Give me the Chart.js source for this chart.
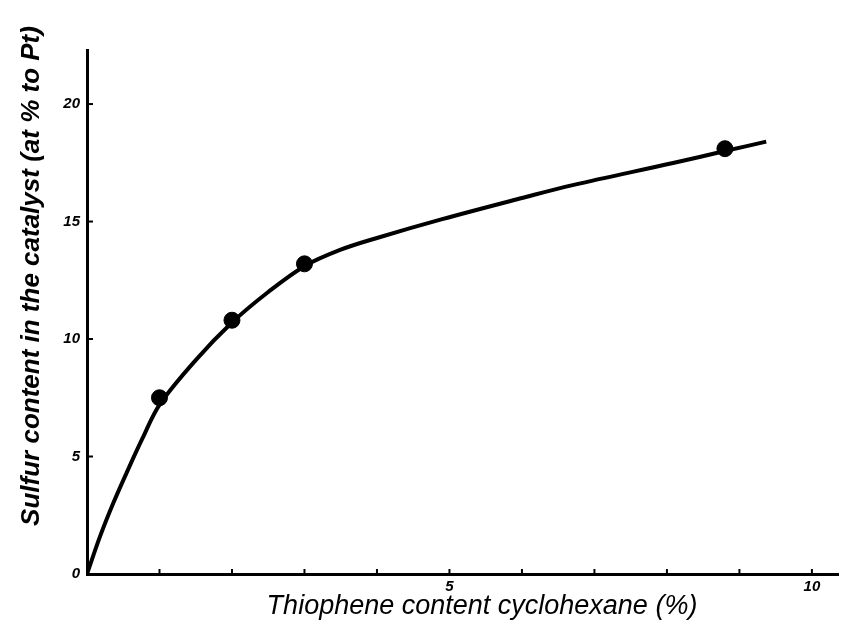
<!DOCTYPE html>
<html>
<head>
<meta charset="utf-8">
<script src="https://cdn.jsdelivr.net/npm/chart.js@4.4.1/dist/chart.umd.min.js"></script>
<style>
  html, body { margin: 0; padding: 0; background: #fff; }
  canvas { display: block; }
</style>
</head>
<body>
<canvas id="grafico" width="847" height="628"></canvas>
<script>
// --- datos ---
const curvaX = [0, 0.18, 0.36, 0.56, 0.77, 1, 1.5, 2, 2.5, 3, 3.5, 4, 4.9, 6, 6.7, 8.1, 8.8, 9.37];
const curvaY = [0, 1.6, 3.0, 4.4, 5.8, 7.2, 9.1, 10.7, 12.0, 13.1, 13.8, 14.3, 15.1, 16.0, 16.55, 17.5, 18.0, 18.4];

const medidasX = [1, 2, 3, 8.8];
const medidasY = [7.5, 10.8, 13.2, 18.1];

const ticksEjeX = [5, 10];
const ticksEjeY = [0, 5, 10, 15, 20];

const tituloX = "Thiophene content cyclohexane (%)";
const tituloY = "Sulfur content in the catalyst (at % to Pt)";

const fuenteMano = '"Liberation Sans", "DejaVu Sans", sans-serif';

// marcas de escala hacia dentro + titulos de ejes
const marcasPlugin = {
    id: 'marcas',
    afterDraw(chart) {
        const ctx = chart.ctx;
        const sx = chart.scales.x, sy = chart.scales.y;
        ctx.save();
        ctx.strokeStyle = '#000';
        ctx.lineWidth = 2;
        for (let v = 1; v <= 10; v++) {
            const px = sx.getPixelForValue(v);
            ctx.beginPath();
            ctx.moveTo(px, sy.bottom);
            ctx.lineTo(px, sy.bottom - 5);
            ctx.stroke();
        }
        for (let v = 5; v <= 20; v += 5) {
            const py = sy.getPixelForValue(v);
            ctx.beginPath();
            ctx.moveTo(sx.left, py);
            ctx.lineTo(sx.left + 6, py);
            ctx.stroke();
        }
        ctx.fillStyle = '#000';
        ctx.textAlign = 'center';
        ctx.textBaseline = 'middle';
        ctx.font = 'italic 27px ' + fuenteMano;
        ctx.fillText(tituloX, 482, 606);
        ctx.translate(32, 276);
        ctx.rotate(-Math.PI / 2);
        ctx.font = 'italic bold 26px ' + fuenteMano;
        ctx.fillText(tituloY, 0, 0);
        ctx.restore();
    }
};

new Chart(document.getElementById('grafico'), {
    type: 'scatter',
    data: {
        datasets: [
            {
                type: 'line',
                data: curvaX.map((x, i) => ({ x: x, y: curvaY[i] })),
                borderColor: '#000',
                borderWidth: 4,
                pointRadius: 0,
                tension: 0.35,
                fill: false
            },
            {
                data: medidasX.map((x, i) => ({ x: x, y: medidasY[i] })),
                backgroundColor: '#000',
                borderColor: '#000',
                pointRadius: 8,
                pointHoverRadius: 8
            }
        ]
    },
    options: {
        responsive: false,
        animation: false,
        layout: { padding: { top: 50, right: 0, left: 0, bottom: 0 } },
        plugins: { legend: { display: false }, tooltip: { enabled: false } },
        scales: {
            x: {
                type: 'linear',
                min: 0,
                max: 10.36,
                afterFit(scale) { scale.height = 54; },
                grid: { display: false, drawTicks: false },
                border: { display: true, color: '#000', width: 3 },
                ticks: {
                    stepSize: 5,
                    includeBounds: false,
                    padding: 4,
                    color: '#000',
                    font: { family: fuenteMano, size: 15, style: 'italic', weight: 'bold' },
                    callback: (v) => ticksEjeX.includes(v) ? String(v) : ''
                }
            },
            y: {
                type: 'linear',
                min: 0,
                max: 22.3,
                afterFit(scale) { scale.width = 87; },
                grid: { display: false, drawTicks: false },
                border: { display: true, color: '#000', width: 3 },
                ticks: {
                    stepSize: 5,
                    includeBounds: false,
                    padding: 7,
                    color: '#000',
                    font: { family: fuenteMano, size: 15, style: 'italic', weight: 'bold' },
                    callback: (v) => ticksEjeY.includes(v) ? String(v) : ''
                }
            }
        }
    },
    plugins: [marcasPlugin]
});
</script>
</body>
</html>
